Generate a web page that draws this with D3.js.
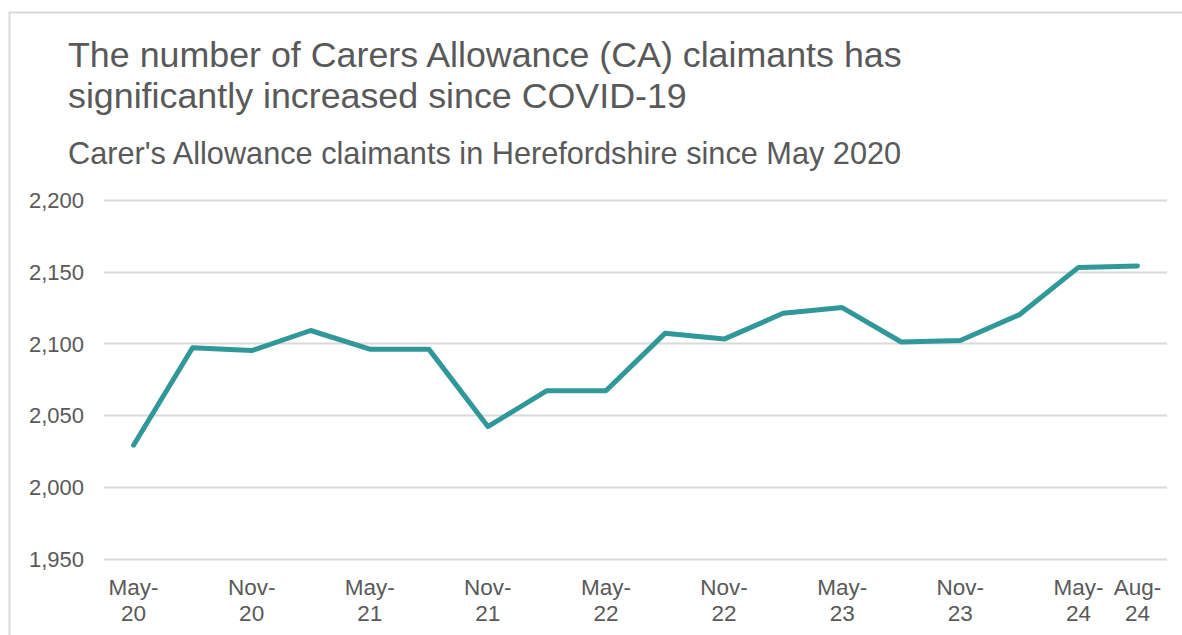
<!DOCTYPE html>
<html>
<head>
<meta charset="utf-8">
<script src="https://cdn.jsdelivr.net/npm/d3@7"></script>
<style>
  html, body { margin: 0; padding: 0; background: #fff; }
  svg { display: block; font-family: "Liberation Sans", Arial, sans-serif; }
</style>
</head>
<body>
<svg id="chart" width="1182" height="635"></svg>
<script>
// Quarterly Carer's Allowance claimant counts, Herefordshire
const periods = ["May-20","Aug-20","Nov-20","Feb-21","May-21","Aug-21","Nov-21","Feb-22","May-22",
                 "Aug-22","Nov-22","Feb-23","May-23","Aug-23","Nov-23","Feb-24","May-24","Aug-24"];
const claimants = [2029, 2097, 2095, 2109, 2096, 2096, 2042, 2067, 2067,
                   2107, 2103, 2121, 2125, 2101, 2102, 2120, 2153, 2154];
// Only these categories carry a visible axis label
const labelledPeriods = ["May-20","Nov-20","May-21","Nov-21","May-22","Nov-22","May-23","Nov-23","May-24","Aug-24"];
const yTicks = [1950, 2000, 2050, 2100, 2150, 2200];

const titleLines = ["The number of Carers Allowance (CA) claimants has", "significantly increased since COVID-19"];
const subtitle = "Carer's Allowance claimants in Herefordshire since May 2020";

const textColor = "#595959";
const gridColor = "#d9d9d9";
const lineColor = "#31989a";
const fontFamily = "Liberation Sans, Arial, sans-serif";

const svg = d3.select("#chart");

// outer frame
svg.append("rect")
  .attr("x", 9.5).attr("y", 12.5)
  .attr("width", 1200).attr("height", 700)
  .attr("fill", "none").attr("stroke", gridColor).attr("stroke-width", 2);

// titles
const title = svg.append("text")
  .attr("fill", textColor).attr("font-size", 35.8);
titleLines.forEach((t, i) => {
  title.append("tspan").attr("x", 68).attr("y", 67 + i * 41).text(t);
});
svg.append("text")
  .attr("x", 68).attr("y", 164)
  .attr("fill", textColor).attr("font-size", 30.7)
  .text(subtitle);

const plot = { left: 104, right: 1167, top: 200, bottom: 558.5 };

const x = d3.scaleBand().domain(periods).range([plot.left, plot.right]);
const y = d3.scaleLinear().domain([1950, 2200]).range([plot.bottom, plot.top]);

// horizontal gridlines
svg.append("g")
  .selectAll("line")
  .data(yTicks)
  .join("line")
  .attr("x1", plot.left).attr("x2", plot.right)
  .attr("y1", d => Math.round(y(d)) + 0.5).attr("y2", d => Math.round(y(d)) + 0.5)
  .attr("stroke", gridColor).attr("stroke-width", 2);

// y axis labels
const yAxis = svg.append("g")
  .attr("transform", `translate(${plot.left - 20},0)`)
  .call(d3.axisLeft(y).tickValues(yTicks).tickSize(0).tickPadding(0).tickFormat(d3.format(",")));
yAxis.select(".domain").remove();
yAxis.selectAll("text")
  .attr("fill", textColor).attr("font-size", 22)
  .attr("font-family", fontFamily)
  .attr("dy", "0.35em");

// x axis labels, split over two lines
const xAxis = svg.append("g")
  .attr("transform", `translate(0,${plot.bottom})`)
  .call(d3.axisBottom(x).tickValues(labelledPeriods).tickSize(0).tickPadding(0).tickFormat(""));
xAxis.select(".domain").remove();
xAxis.selectAll(".tick").each(function(d) {
  const parts = d.split("-");
  const t = d3.select(this).append("text")
    .attr("fill", textColor).attr("font-size", 22.5)
    .attr("font-family", fontFamily)
    .attr("text-anchor", "middle");
  t.append("tspan").attr("x", 0).attr("y", 36).text(parts[0] + "-");
  t.append("tspan").attr("x", 0).attr("y", 62).text(parts[1]);
});

// claimant line
const line = d3.line()
  .x((d, i) => x(periods[i]) + x.bandwidth() / 2)
  .y(d => y(d));
svg.append("path")
  .datum(claimants)
  .attr("d", line)
  .attr("fill", "none")
  .attr("stroke", lineColor)
  .attr("stroke-width", 5)
  .attr("stroke-linejoin", "round")
  .attr("stroke-linecap", "round");
</script>
</body>
</html>
